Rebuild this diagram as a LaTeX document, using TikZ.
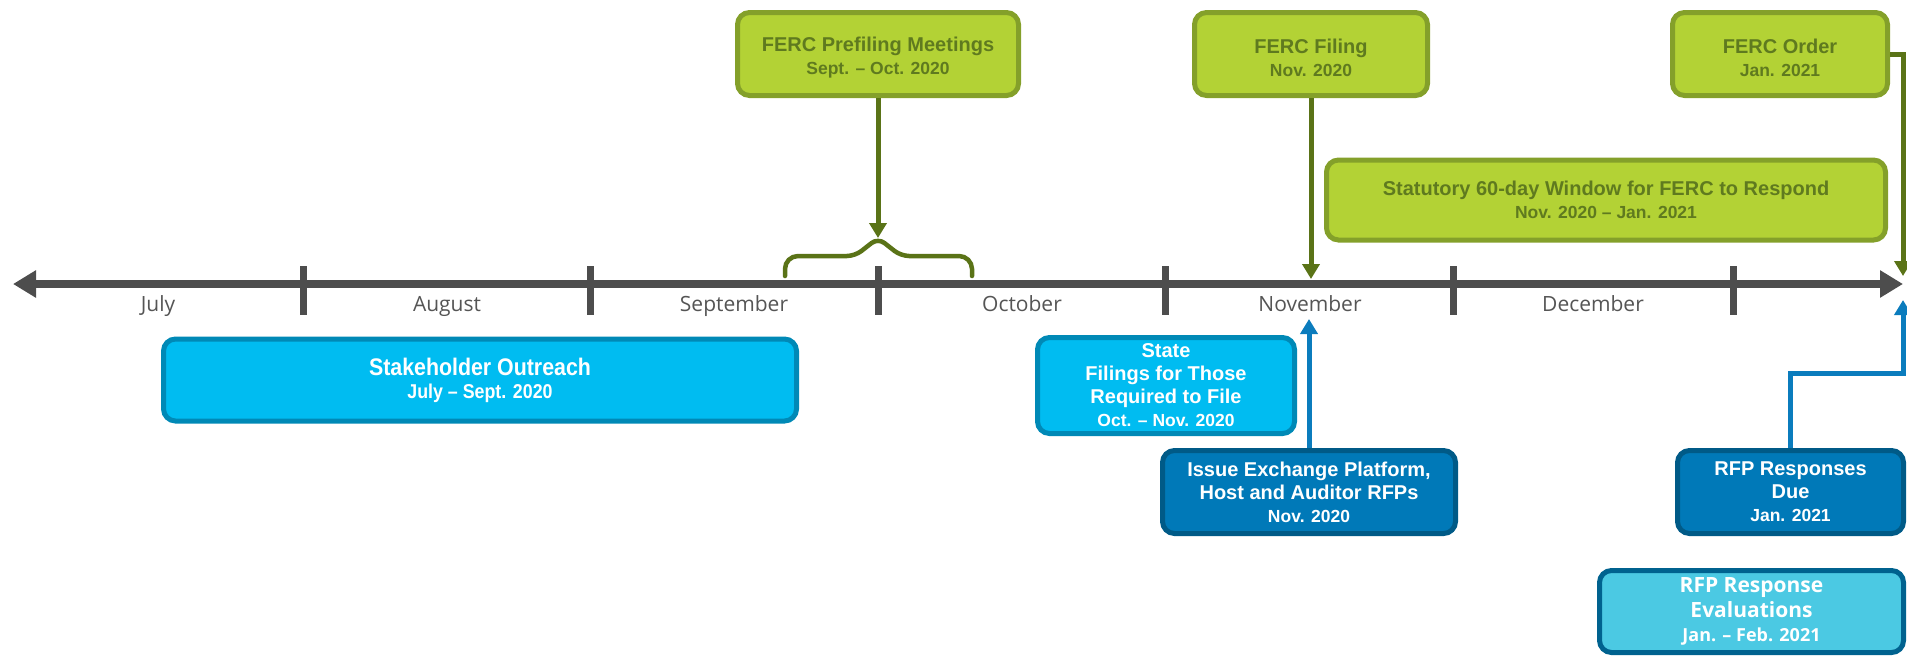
\documentclass[tikz,border=0pt]{standalone}
\usepackage{fontspec}
\setmainfont{Liberation Sans}
\newfontfamily\opensans{Open Sans}
\newfontfamily\narrowsans[FakeStretch=0.89]{Liberation Sans}
\usetikzlibrary{arrows.meta}
\definecolor{gfill}{HTML}{B3D235}
\definecolor{gline}{HTML}{84A02A}
\definecolor{gtext}{HTML}{5F7A1F}
\definecolor{garr}{HTML}{5A7317}
\definecolor{lbfill}{HTML}{00BCF1}
\definecolor{lbline}{HTML}{0089B6}
\definecolor{dbfill}{HTML}{0079B8}
\definecolor{dbline}{HTML}{005A87}
\definecolor{cyfill}{HTML}{4BC9E3}
\definecolor{cyline}{HTML}{00628F}
\definecolor{barr}{HTML}{0B7CBD}
\definecolor{axgray}{HTML}{4D4D4D}
\definecolor{mgray}{HTML}{555555}
\newcommand\mydate{\fontsize{17.5}{23}\selectfont}
\newcommand\topstrut{\rule{0pt}{22pt}}
\tikzset{
  boxbase/.style={rectangle, rounded corners=12pt, line width=5pt, align=center, inner sep=0pt,
    font=\fontsize{20}{23}\selectfont\bfseries},
  gbox/.style={boxbase, draw=gline, fill=gfill, text=gtext},
  lbbox/.style={boxbase, draw=lbline, fill=lbfill, text=white},
  dbbox/.style={boxbase, draw=dbline, fill=dbfill, text=white},
  cybox/.style={boxbase, draw=cyline, fill=cyfill, text=white, font=\opensans\fontsize{21}{24.5}\selectfont\bfseries},
  garrow/.style={draw=garr, line width=5pt, -{Triangle[width=17pt,length=15pt]}},
  barrow/.style={draw=barr, line width=5pt, -{Triangle[width=17pt,length=15pt]}},
  axisline/.style={draw=axgray, line width=8pt, {Triangle[width=26pt,length=23pt]}-{Triangle[width=26pt,length=23pt]}},
  tickmark/.style={draw=axgray, line width=7pt},
  month/.style={anchor=base, text=mgray, font=\opensans\fontsize{21}{24}\selectfont},
  bracepath/.style={draw=garr, line width=4.5pt, line cap=round}
}
\begin{document}
\begin{tikzpicture}[x=1pt,y=-1pt]
\useasboundingbox (0,0) rectangle (1907,656);
% axis
\coordinate (axL) at (13,284);
\coordinate (axR) at (1903,284);
\draw[axisline] (axL) -- (axR);
\foreach \tx in {303,590,878,1165,1453,1733}{
  \draw[tickmark] (\tx,266) -- (\tx,315);
}
% months
\node[month] (mJul) at (158,311) {July};
\node[month] (mAug) at (447,311) {August};
\node[month] (mSep) at (734,311) {September};
\node[month] (mOct) at (1022,311) {October};
\node[month] (mNov) at (1310,311) {November};
\node[month] (mDec) at (1593,311) {December};
% brace
\coordinate (braceTip) at (878,238);
\draw[bracepath] (785,276) [rounded corners=13pt] -- (785,256) [rounded corners=8pt] -- (855,256) -- (braceTip) -- (901,256) [rounded corners=13pt] -- (972,256) -- (972,276);
% green boxes
\node[gbox, minimum width=281pt, minimum height=83pt] (pre) at (878,54)
  {\topstrut FERC Prefiling Meetings\\{\mydate Sept. – Oct. 2020}};
\node[gbox, minimum width=233pt, minimum height=83pt] (fil) at (1311,54)
  {\topstrut FERC Filing\\{\mydate Nov. 2020}};
\node[gbox, minimum width=215pt, minimum height=83pt] (ord) at (1780,54)
  {\topstrut FERC Order\\{\mydate Jan. 2021}};
\node[gbox, minimum width=559pt, minimum height=80pt] (stat) at (1606,200)
  {Statutory 60-day Window for FERC to Respond\\{\mydate Nov. 2020 – Jan. 2021}};
% blue boxes
\node[lbbox, minimum width=633pt, minimum height=82pt, font=\narrowsans\fontsize{24}{23}\selectfont\bfseries] (stk) at (480,380)
  {Stakeholder Outreach\\{\fontsize{20}{23}\selectfont July – Sept. 2020}};
\node[lbbox, minimum width=257pt, minimum height=96pt] (state) at (1166,385.5)
  {State\\Filings for Those\\Required to File\\{\mydate Oct. – Nov. 2020}};
\node[dbbox, minimum width=293pt, minimum height=83pt] (iss) at (1309,492)
  {Issue Exchange Platform,\\Host and Auditor RFPs\\{\mydate Nov. 2020}};
\node[dbbox, minimum width=226pt, minimum height=83pt] (rfp) at (1790.5,492)
  {RFP Responses\\Due\\{\mydate Jan. 2021}};
\node[cybox, minimum width=304pt, minimum height=82pt] (eval) at (1751.5,611.5)
  {RFP Response\\Evaluations\\{\fontsize{18}{24.5}\selectfont Jan. – Feb. 2021}};
% connectors
\coordinate (filT) at (1311,279);
\coordinate (ordT) at (1903,276);
\coordinate (issT) at (1309,319);
\coordinate (rfpElbow) at (1903,373);
\coordinate (rfpT) at (1903,300);
\draw[garrow] (pre.south) -- (braceTip);
\draw[garrow] (fil.south) -- (filT);
\draw[garrow] (ord.east) -| (ordT);
\draw[barrow] (iss.north) -- (issT);
\draw[barrow] (rfp.north) |- (rfpElbow) -- (rfpT);
\end{tikzpicture}
\end{document}
